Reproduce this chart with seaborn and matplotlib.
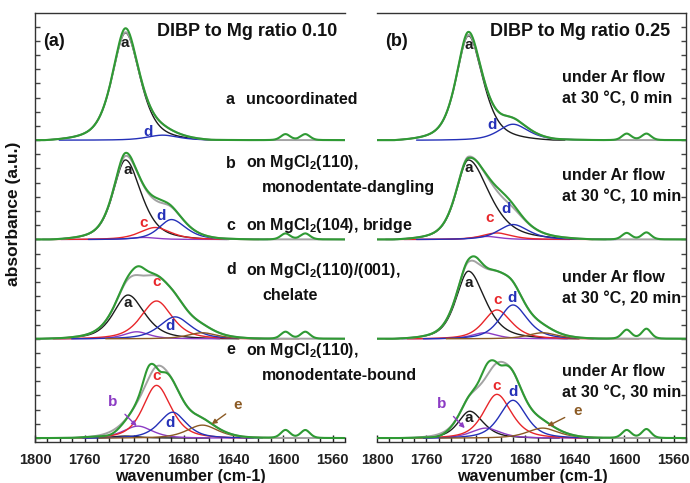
import numpy as np
import matplotlib
matplotlib.use("Agg")
import matplotlib.pyplot as plt
from matplotlib.ticker import MultipleLocator
import seaborn as sns

# ---------------------------------------------------------------- data
WN_HIGH, WN_LOW = 1800, 1550
MAJOR_TICKS = [1800, 1760, 1720, 1680, 1640, 1600, 1560]

# Fitted C=O bands, one entry per spectrum from top (offset 3) to bottom (offset 0):
# (centre / cm-1, height, HWHM on high-wavenumber side, HWHM on low-wavenumber side)
# Panel (a): DIBP to Mg ratio 0.10
A_BAND_a = [(1727, 1.08, 13, 14), (1727, 0.80, 12, 15), (1725, 0.44, 14, 16), (1727, 0.02, 12, 12)]
A_BAND_b = [None, (1712, 0.02, 12, 12), (1718, 0.07, 12, 12), (1717, 0.12, 14, 14)]
A_BAND_c = [None, (1703, 0.12, 15, 15), (1702, 0.38, 15, 15), (1702, 0.53, 13, 14)]
A_BAND_d = [(1697, 0.05, 15, 15), (1690, 0.20, 12, 14), (1687, 0.22, 15, 15), (1689, 0.26, 13, 13)]
A_BAND_e = [None, None, (1665, 0.06, 14, 14), (1665, 0.13, 15, 15)]
# measured spectrum minus fit sum
A_RESID = [
    [(1727, 0.04, 6, 6)],
    [(1727, 0.03, 6, 6), (1700, 0.03, 8, 8)],
    [(1716, 0.09, 7, 7)],
    [(1709, 0.13, 5, 5), (1699, -0.07, 4, 4), (1738, -0.03, 8, 8)],
]
A_RING = [(0.06, 0.06), (0.06, 0.06), (0.07, 0.07), (0.08, 0.08)]

# Panel (b): DIBP to Mg ratio 0.25, under Ar flow at 0 / 10 / 20 / 30 min
B_BAND_a = [(1726, 1.05, 12, 14), (1726, 0.80, 12, 20), (1726, 0.68, 12, 16), (1725, 0.27, 11, 13)]
B_BAND_b = [None, (1711, 0.03, 12, 12), (1713, 0.06, 12, 12), (1712, 0.10, 14, 14)]
B_BAND_c = [None, (1703, 0.065, 14, 14), (1703, 0.29, 13, 14), (1703, 0.44, 13, 14)]
B_BAND_d = [(1690, 0.16, 14, 15), (1690, 0.15, 14, 15), (1690, 0.34, 13, 14), (1690, 0.38, 13, 13)]
B_BAND_e = [None, None, (1666, 0.06, 14, 14), (1666, 0.10, 15, 15)]
B_RESID = [
    [(1726, 0.03, 6, 6)],
    [(1726, -0.015, 5, 5), (1697, 0.05, 10, 10)],
    [(1720, 0.05, 6, 6)],
    [(1711, 0.12, 6, 6), (1700, -0.05, 4, 4), (1750, -0.02, 8, 8)],
]
B_RING = [(0.065, 0.065), (0.065, 0.07), (0.09, 0.10), (0.08, 0.09)]

RING_CENTRES = (1598, 1582)
OFFSETS = [3, 2, 1, 0]

# peak letters: (letter, wavenumber, y in axis units)
A_LETTERS = [
    ("a", 1727.5, 3.98), ("d", 1709, 3.08),
    ("a", 1725, 2.70), ("c", 1712, 2.17), ("d", 1698.5, 2.24),
    ("a", 1725, 1.36), ("c", 1702, 1.57), ("d", 1691, 1.13),
    ("c", 1702, 0.62), ("d", 1691, 0.15),
]
B_LETTERS = [
    ("a", 1726, 3.96), ("d", 1706.6, 3.15),
    ("a", 1726, 2.72), ("c", 1709, 2.22), ("d", 1695.3, 2.31),
    ("a", 1726, 1.56), ("c", 1702.6, 1.39), ("d", 1690.5, 1.41),
    ("a", 1726, 0.20), ("c", 1703, 0.52), ("d", 1690, 0.46),
]
# arrowed letters: (letter, text wn, text y, tip wn, tip y)
A_ARROWS = [("b", 1737, 0.36, 1718, 0.12), ("e", 1636.5, 0.33, 1657.5, 0.14)]
B_ARROWS = [("b", 1747.7, 0.34, 1729, 0.10), ("e", 1638, 0.27, 1662, 0.12)]

A_NOTES = [
    ("a", "uncoordinated", None, 100),
    ("b", "on MgCl$_2$(110),", "monodentate-dangling", 163),
    ("c", "on MgCl$_2$(104), bridge", None, 226),
    ("d", "on MgCl$_2$(110)/(001),", "chelate", 270),
    ("e", "on MgCl$_2$(110),", "monodentate-bound", 350),
]
B_NOTES = [("0 min", 77), ("10 min", 175), ("20 min", 277), ("30 min", 371)]

# ---------------------------------------------------------------- style
GREEN = "#2f9a34"
BLACK = "#1c1c1c"
GRAY = "#a3a3a3"
COLORS = {"a": BLACK, "b": "#8c3cc4", "c": "#e8262a", "d": "#2430b8", "e": "#8b5a24"}

sns.set_style("ticks")
plt.rcParams["font.family"] = ["Liberation Sans", "DejaVu Sans"]
plt.rcParams["font.weight"] = "bold"
plt.rcParams["mathtext.fontset"] = "custom"
plt.rcParams["mathtext.rm"] = "Liberation Sans:bold"
plt.rcParams["mathtext.it"] = "Liberation Sans:bold"
plt.rcParams["mathtext.bf"] = "Liberation Sans:bold"

W, H = 690, 483
wn = np.arange(WN_LOW, WN_HIGH + 0.25, 0.5)
CUT = 5.0  # band profiles are brought to zero at CUT half-widths


def band(x, spec, eta=0.6):
    """Split pseudo-Voigt profile with a finite support of +-CUT half-widths."""
    c, h, hw_hi, hw_lo = spec
    hw = np.where(x > c, hw_hi, hw_lo)
    u = (x - c) / hw
    edge = 1 / (1 + CUT ** 2)
    lor = np.clip((1 / (1 + u ** 2) - edge) / (1 - edge), 0, None)
    gau = np.exp(-np.log(2) * u ** 2)
    return h * (eta * lor + (1 - eta) * gau)


def band_window(x, spec, k=CUT + 0.6):
    c, _, hw_hi, hw_lo = spec
    return (x < c + k * hw_hi) & (x > c - k * hw_lo)


def draw_panel(ax, bands, resid, ring):
    for i, off in enumerate(OFFSETS):
        comps = {}
        for key, lst in bands.items():
            if lst[i] is not None:
                comps[key] = (band(wn, lst[i]), band_window(wn, lst[i]))
        fit = sum(v[0] for v in comps.values())
        meas = fit.copy()
        for r in resid[i]:
            meas += band(wn, r, eta=0.3)
        for rc, rh in zip(RING_CENTRES, ring[i]):
            meas += band(wn, (rc, rh, 4.5, 4.5), eta=0.3)
        for key, (y, win) in comps.items():
            sns.lineplot(x=wn[win], y=y[win] + off, ax=ax, color=COLORS[key], linewidth=1.0,
                         estimator=None, sort=False, legend=False)
        sns.lineplot(x=wn, y=fit + off, ax=ax, color=GRAY, linewidth=1.4,
                     estimator=None, sort=False, legend=False)
        sns.lineplot(x=wn, y=meas + off, ax=ax, color=GREEN, linewidth=1.5,
                     estimator=None, sort=False, legend=False)


def style_axes(ax, side):
    ax.set_xlim(WN_HIGH, WN_LOW)
    ax.set_ylim(-0.04, 4.28)
    ax.set_xticks(MAJOR_TICKS)
    ax.set_xticklabels([str(t) for t in MAJOR_TICKS], fontsize=10.5, fontweight="bold")
    ax.xaxis.set_minor_locator(MultipleLocator(10))
    ax.yaxis.set_major_locator(MultipleLocator(1 / 7))
    ax.set_yticklabels([])
    ax.tick_params(axis="x", which="major", direction="in", length=5, width=1, pad=8, colors="#222222")
    ax.tick_params(axis="x", which="minor", direction="in", length=3.5, width=1, colors="#222222")
    ax.tick_params(axis="y", which="major", direction="in", length=3.5, width=1, colors="#444444",
                   left=(side == "left"), right=(side == "right"),
                   labelleft=False, labelright=False)
    ax.set_xlabel("")
    ax.set_ylabel("")
    for s in ["top", "bottom", "left", "right"]:
        ax.spines[s].set_color("#333333")
        ax.spines[s].set_linewidth(1.0)
    ax.spines["right" if side == "left" else "left"].set_visible(False)
    ax.spines["top"].set_visible(True)
    ax.patch.set_alpha(0)


def letters(ax, items):
    for ch, x, y in items:
        ax.text(x, y, ch, color=COLORS[ch], fontsize=11, fontweight="bold",
                ha="center", va="center")


def arrows(ax, items):
    for ch, tx, ty, ax_, ay in items:
        ax.annotate(ch, xy=(ax_, ay), xytext=(tx, ty), color=COLORS[ch], fontsize=11,
                    fontweight="bold", ha="center", va="center",
                    arrowprops=dict(arrowstyle="-|>", color=COLORS[ch], lw=1.0,
                                    mutation_scale=7, shrinkA=4, shrinkB=0))


fig = plt.figure(figsize=(W / 100, H / 100), dpi=100)
axL = fig.add_axes([35 / W, 41 / H, 310 / W, 429 / H])
axR = fig.add_axes([377 / W, 41 / H, 309 / W, 429 / H])

draw_panel(axL, {"a": A_BAND_a, "b": A_BAND_b, "c": A_BAND_c, "d": A_BAND_d, "e": A_BAND_e},
           A_RESID, A_RING)
draw_panel(axR, {"a": B_BAND_a, "b": B_BAND_b, "c": B_BAND_c, "d": B_BAND_d, "e": B_BAND_e},
           B_RESID, B_RING)
style_axes(axL, "left")
style_axes(axR, "right")
letters(axL, A_LETTERS)
letters(axR, B_LETTERS)
arrows(axL, A_ARROWS)
arrows(axR, B_ARROWS)


def ftext(x, y, s, **kw):
    kw.setdefault("fontsize", 11.5)
    kw.setdefault("fontweight", "bold")
    kw.setdefault("va", "center")
    fig.text(x / W, 1 - y / H, s, color="#111111", **kw)


ftext(43, 41, "(a)", fontsize=13)
ftext(385, 41, "(b)", fontsize=13)
ftext(337, 31, "DIBP to Mg ratio 0.10", fontsize=13, ha="right")
ftext(670, 31, "DIBP to Mg ratio 0.25", fontsize=13, ha="right")

for ch, line1, line2, y in A_NOTES:
    ftext(226, y, ch)
    ftext(246, y, line1)
    if line2:
        ftext(262, y + 25, line2)

for tail, y in B_NOTES:
    ftext(562, y, "under Ar flow")
    ftext(562, y + 22, "at 30 \u00b0C, " + tail)

ftext(14, 214, "absorbance (a.u.)", rotation=90, ha="center", fontsize=12.5)
ftext(190, 477, "wavenumber (cm-1)", ha="center")
ftext(532, 477, "wavenumber (cm-1)", ha="center")

fig.savefig("out.png", dpi=100)
